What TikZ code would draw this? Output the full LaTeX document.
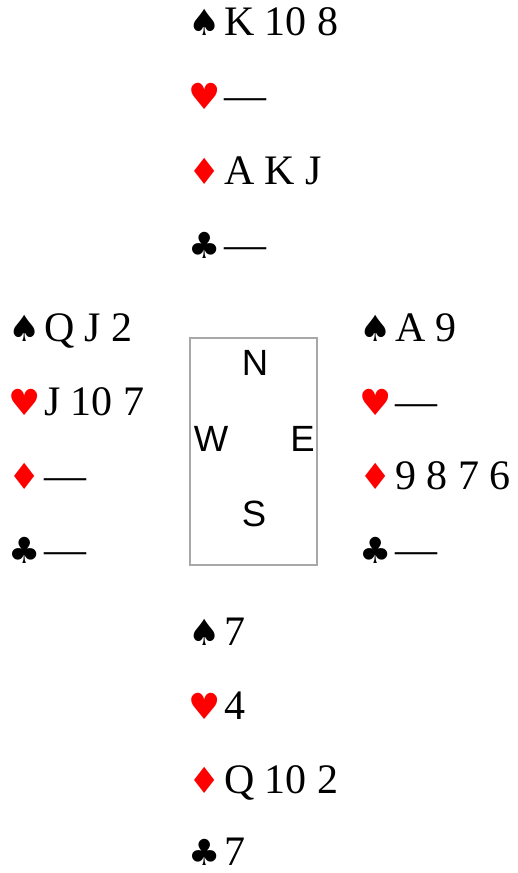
\documentclass[tikz,border=0pt]{standalone}
\usepackage{fontspec}
\setmainfont{Liberation Serif}
\newfontfamily\sansf{Liberation Sans}
\newfontfamily\suitf{DejaVu Sans}
\definecolor{suitred}{RGB}{255,0,0}
\definecolor{boxgray}{RGB}{168,168,168}
\newcommand{\suitbox}[1]{\makebox[24pt][c]{\suitf\fontsize{36}{36}\selectfont #1}\hspace{7pt}}
\newcommand{\Sp}{\suitbox{♠}}
\newcommand{\He}{\suitbox{\textcolor{suitred}{♥}}}
\newcommand{\Di}{\suitbox{\textcolor{suitred}{♦}}}
\newcommand{\Cl}{\suitbox{♣}}
\tikzset{
  cardrow/.style={anchor=base west, inner sep=0pt, outer sep=0pt, font=\fontsize{42}{42}\selectfont},
  compass/.style={anchor=base, inner sep=0pt, font=\sansf\fontsize{36.5}{36.5}\selectfont},
  tablebox/.style={draw=boxgray, line width=1.5pt}
}
\begin{document}
\begin{tikzpicture}[x=1pt,y=1pt]
\useasboundingbox (0,0) rectangle (517,873);
% North
\node[cardrow] (n1) at (193,{873-36}) {\Sp K 10 8};
\node[cardrow] (n2) at (193,{873-110}) {\He —};
\node[cardrow] (n3) at (193,{873-185}) {\Di A K J};
\node[cardrow] (n4) at (193,{873-259}) {\Cl —};
% West
\node[cardrow] (w1) at (13,{873-342}) {\Sp Q J 2};
\node[cardrow] (w2) at (13,{873-416}) {\He J 10 7};
\node[cardrow] (w3) at (13,{873-490}) {\Di —};
\node[cardrow] (w4) at (13,{873-564}) {\Cl —};
% East
\node[cardrow] (e1) at (364,{873-342}) {\Sp A 9};
\node[cardrow] (e2) at (364,{873-416}) {\He —};
\node[cardrow] (e3) at (364,{873-490}) {\Di 9 8 7 6};
\node[cardrow] (e4) at (364,{873-564}) {\Cl —};
% South
\node[cardrow] (s1) at (193,{873-646}) {\Sp 7};
\node[cardrow] (s2) at (193,{873-720}) {\He 4};
\node[cardrow] (s3) at (193,{873-794}) {\Di Q 10 2};
\node[cardrow] (s4) at (193,{873-866}) {\Cl 7};
% Table
\draw[tablebox] (190,{873-338}) rectangle (317,{873-565});
\node[compass] (cn) at (255,{873-376}) {N};
\node[compass] (cw) at (211,{873-452}) {W};
\node[compass] (ce) at (302.5,{873-452}) {E};
\node[compass] (cs) at (254,{873-527}) {S};
\end{tikzpicture}
\end{document}
